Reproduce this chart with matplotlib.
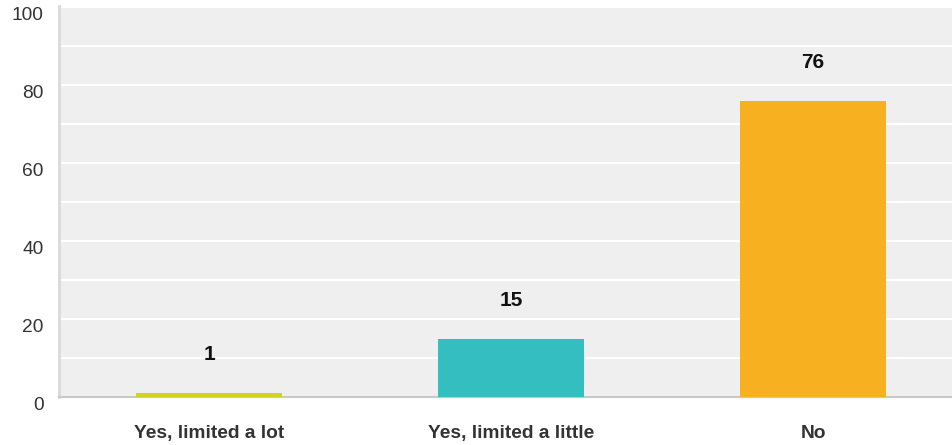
import matplotlib.pyplot as plt
from matplotlib.ticker import MultipleLocator

plt.rcParams['font.family'] = ['Liberation Sans', 'DejaVu Sans']

categorias = ['Yes, limited a lot', 'Yes, limited a little', 'No']
valores = [1, 15, 76]
cores = ['#d1d41f', '#35bec0', '#f7b01f']

fig = plt.figure(figsize=(9.53, 4.45), dpi=100)
ax = fig.add_axes([59 / 953, 48 / 445, 894 / 953, 391 / 445])
ax.set_facecolor('#efefef')

x = list(range(len(categorias)))
ax.bar(x, valores, width=0.483, color=cores, zorder=3)

for xi, v in zip(x, valores):
    ax.text(xi, v + 9.8, str(v), ha='center', va='center',
            fontsize=15, fontweight='bold', color='#111111', zorder=4)

ax.set_xlim(-0.497, 2.463)
ax.set_ylim(0, 100.3)
ax.yaxis.set_major_locator(MultipleLocator(20))
ax.yaxis.set_minor_locator(MultipleLocator(10))
ax.grid(axis='y', which='both', color='white', linewidth=1.6, zorder=1)
ax.set_axisbelow(True)

ax.set_xticks(x)
ax.set_xticklabels(categorias, fontsize=13.8, fontweight='bold', color='#333333')
ax.tick_params(axis='x', length=0, pad=20)
ax.tick_params(axis='y', which='both', length=0, pad=11, labelsize=13.8, labelcolor='#333333')
for lbl in ax.get_yticklabels():
    lbl.set_verticalalignment('top')

for s in ['top', 'right']:
    ax.spines[s].set_visible(False)
ax.spines['left'].set_color('#d9d9d9')
ax.spines['left'].set_linewidth(2)
ax.spines['bottom'].set_color('#c8c8c8')
ax.spines['bottom'].set_linewidth(1.5)

fig.savefig('out.png', dpi=100)
